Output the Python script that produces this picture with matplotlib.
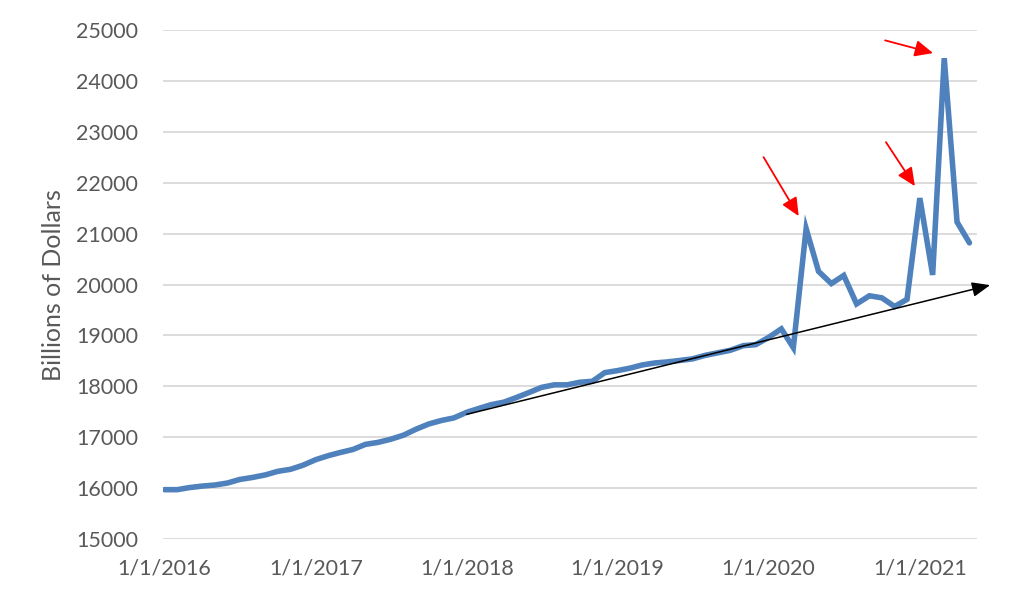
import matplotlib
matplotlib.use('Agg')
import matplotlib.pyplot as plt
import matplotlib.dates as mdates
import pandas as pd
import numpy as np

plt.rcParams['font.family'] = ['Lato', 'DejaVu Sans']

# monthly values, billions of dollars
months = pd.date_range('2016-01-01', '2021-05-01', freq='MS')
values = [
    15970, 15970, 16010, 16040, 16060, 16100, 16170, 16210, 16260, 16330, 16370, 16450,
    16560, 16640, 16700, 16760, 16860, 16900, 16960, 17040, 17160, 17260, 17330, 17380,
    17490, 17570, 17640, 17690, 17780, 17880, 17980, 18030, 18030, 18080, 18100, 18270,
    18310, 18360, 18420, 18460, 18480, 18510, 18540, 18610, 18660, 18710, 18800, 18820,
    18960, 19130, 18760, 21100, 20260, 20020, 20180, 19620, 19780, 19740, 19570, 19710,
    21700, 20190, 24450, 21230, 20820,
]
tick_dates = pd.to_datetime(['2016-01-01', '2017-01-01', '2018-01-01',
                             '2019-01-01', '2020-01-01', '2021-01-01'])
tick_labels = ['1/1/2016', '1/1/2017', '1/1/2018', '1/1/2019', '1/1/2020', '1/1/2021']
y_ticks = list(range(15000, 25001, 1000))

# trend arrow end points
trend_start = (pd.Timestamp('2018-01-01'), 17450)
trend_end = (pd.Timestamp('2021-06-20'), 19990)

# months flagged with red arrows
spikes = ['2020-04-01', '2021-01-01', '2021-03-01']

fig = plt.figure(figsize=(10.24, 6.04), dpi=100)
ax = fig.add_axes([0.159, 0.1076, 0.795, 0.8424])

ax.plot(months, values, color='#4F81BD', linewidth=4.0, solid_capstyle='round',
        solid_joinstyle='miter', zorder=3)

ax.annotate('', xy=trend_end, xytext=trend_start,
            arrowprops=dict(arrowstyle='-|>,head_length=1.1,head_width=0.45',
                            color='black', lw=1.1, shrinkA=0, shrinkB=0),
            annotation_clip=False, zorder=4)

s = pd.Series(values, index=months)
offsets = [((-18, 246), (-103, 1405)),
           ((-12, 235), (-82, 1100)),
           ((-27, 100), (-143, 350))]
for d, (tip, tail) in zip(spikes, offsets):
    d = pd.Timestamp(d)
    v = s[d]
    ax.annotate('', xy=(d + pd.Timedelta(days=tip[0]), v + tip[1]),
                xytext=(d + pd.Timedelta(days=tail[0]), v + tail[1]),
                arrowprops=dict(arrowstyle='-|>,head_length=1.1,head_width=0.5',
                                color='red', lw=1.3, shrinkA=0, shrinkB=0),
                annotation_clip=False, zorder=5)

ax.set_xlim(pd.Timestamp('2015-12-28'), pd.Timestamp('2021-05-19'))
ax.set_ylim(15000, 25000)
ax.set_yticks(y_ticks)
ax.set_xticks(tick_dates)
ax.set_xticklabels(tick_labels)
ax.grid(axis='y', color='#d9d9d9', linewidth=1.3)
ax.set_axisbelow(True)
for sp in ax.spines.values():
    sp.set_visible(False)
ax.tick_params(length=0, labelsize=15.5, colors='#595959')
ax.tick_params(axis='y', pad=18)
ax.tick_params(axis='x', pad=14)
ax.set_ylabel('Billions of Dollars', fontsize=18, color='#595959', labelpad=8)

fig.savefig('out.png', dpi=100)
